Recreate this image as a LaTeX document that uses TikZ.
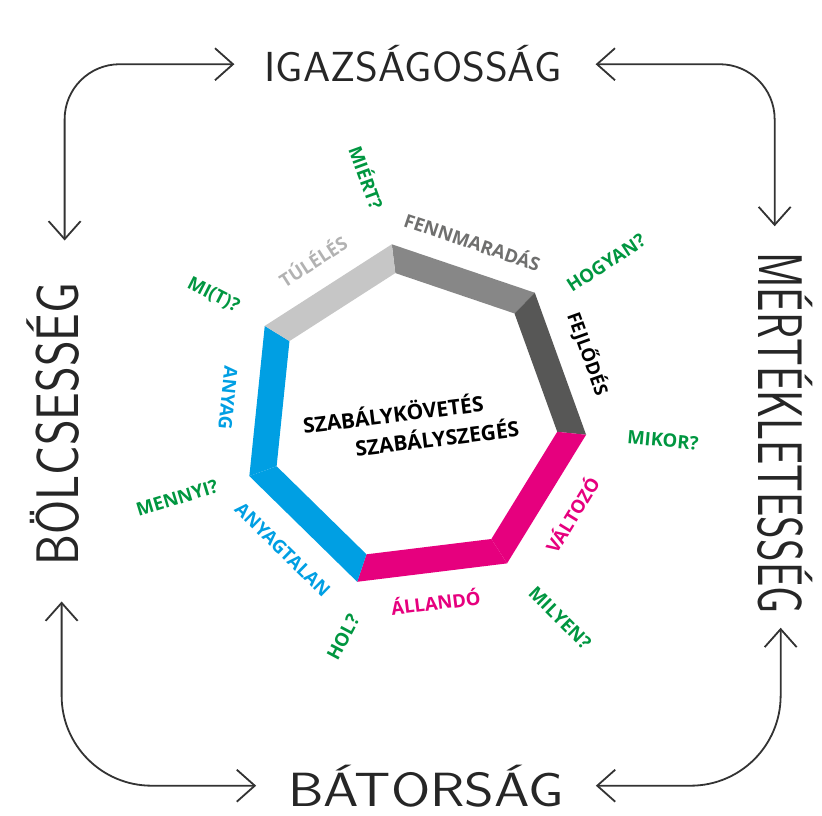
\documentclass[tikz,border=0pt]{standalone}
\usepackage{fontspec}
\setmainfont{Open Sans}
\newfontfamily\labelfont{Open Sans}
\usetikzlibrary{arrows.meta}

\definecolor{grayA}{HTML}{C6C6C6}
\definecolor{grayB}{HTML}{878787}
\definecolor{grayC}{HTML}{575756}
\definecolor{magentaA}{HTML}{E6007E}
\definecolor{blueA}{HTML}{009FE3}
\definecolor{greenA}{HTML}{009640}
\definecolor{graytextA}{HTML}{B2B2B2}
\definecolor{graytextB}{HTML}{6F6F6E}

\newcommand{\handtext}[3]{\scalebox{#1}[1]{\fontsize{#2}{#2}\selectfont #3}}

\tikzset{
  sidelabel/.style={font=\labelfont\bfseries\fontsize{18.5}{18.5}\selectfont, inner sep=0pt},
  question/.style={font=\labelfont\bfseries\fontsize{18.5}{18.5}\selectfont, text=greenA, inner sep=0pt},
  centertext/.style={font=\labelfont\bfseries\fontsize{21}{21}\selectfont, inner sep=0pt, rotate=7},
  hand/.style={font=\sffamily, inner sep=0pt, text=black!85, anchor=base},
  handline/.style={<->, >={Straight Barb[length=18pt,width=32pt]}, line width=1.8pt, black!80},
}

\begin{document}
\begin{tikzpicture}[x=1pt, y=1pt]
    \useasboundingbox (0,0) rectangle (822,815);

    % the four virtues, handwritten
    \node[hand] (igaz) at (413,733) {\handtext{1.04}{42}{IGAZSÁGOSSÁG}};
    \node[hand] (bator) at (426,9) {\handtext{1.18}{48}{BÁTORSÁG}};
    \node[hand, rotate=90] (bolcs) at (78,391) {\handtext{0.82}{60}{BÖLCSESSÉG}};
    \node[hand, rotate=-90] (mert) at (758,382) {\handtext{0.687}{63}{MÉRTÉKLETESSÉG}};

    \draw[handline, rounded corners=55pt] ([xshift=-30pt]igaz.west) -| ([xshift=12pt,yshift=42pt]bolcs.east);
    \draw[handline, rounded corners=55pt] ([xshift=34pt]igaz.east) -| ([xshift=-10pt,yshift=26pt]mert.west);
    \draw[handline, rounded corners=90pt] ([xshift=9pt,yshift=-36pt]bolcs.west) |- ([xshift=-32pt]bator.west);
    \draw[handline, rounded corners=90pt] ([xshift=32pt]bator.east) -| ([xshift=-4pt,yshift=-14pt]mert.east);

    \begin{scope}[shift={(413,398)}]
        % heptagon bands
        \foreach \i/\col in {0/grayB, 1/grayC, 2/magentaA, 3/magentaA, 4/blueA, 5/blueA, 6/grayA} {
            \pgfmathsetmacro\a{97-360/7*\i}
            \pgfmathsetmacro\b{97-360/7*(\i+1)}
            \fill[\col] (\a:174) -- (\b:174) -- (\b:145) -- (\a:145) -- cycle;
        }

        % side labels
        \foreach \i/\turn/\col/\txt in {0/-90/graytextB/FENNMARADÁS, 1/-90/black/FEJLŐDÉS,
                2/90/magentaA/VÁLTOZÓ, 3/90/magentaA/ÁLLANDÓ, 4/90/blueA/ANYAGTALAN,
                5/90/blueA/ANYAG, 6/-90/graytextA/TÚLÉLÉS} {
            \pgfmathsetmacro\m{97-360/7*(\i+0.5)}
            \node[sidelabel, text=\col, rotate=\m+\turn] (side-\i) at (\m:186) {\txt};
        }

        % questions
        \foreach \ang/\rad/\rot/\txt in {100.8/244/-70/MIÉRT?, 38.6/247/33/HOGYAN?, -5.3/251/-5/MIKOR?,
                -53.8/249/-45/MILYEN?, -107.6/231/62/HOL?, -161/249.5/17/MENNYI?, 148.6/234/-27/{MI(T)?}} {
            \node[question, rotate=\rot] (q-\ang) at (\ang:\rad) {\txt};
        }

        \node[centertext] (follow) at (-20,4) {SZABÁLYKÖVETÉS};
        \node[centertext] (break) at (24,-20) {SZABÁLYSZEGÉS};
    \end{scope}
\end{tikzpicture}
\end{document}
